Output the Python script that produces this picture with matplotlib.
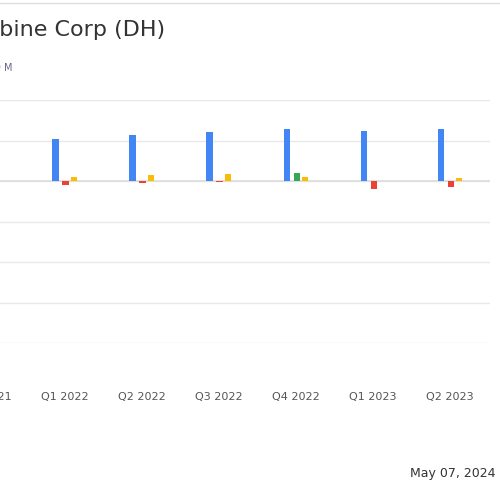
import numpy as np
import matplotlib
matplotlib.use('Agg')
import matplotlib.pyplot as plt
import matplotlib.transforms as mtransforms

quarters = ['Q4 2021', 'Q1 2022', 'Q2 2022', 'Q3 2022', 'Q4 2022', 'Q1 2023', 'Q2 2023']
revenue = [50, 52, 57, 60, 64, 62, 64]
net_income = [-4, -5, -3, -1, 10, -10, -7]
other = [4, 5, 7, 9, 5, 0, 3.5]

fig = plt.figure(figsize=(5, 5), dpi=100)
ax = fig.add_axes([0, 1 - 343 / 500, 490 / 500, 243 / 500])

x = np.arange(len(quarters))
ax.bar(x - 0.12, revenue, 0.08, color='#4285f4', zorder=3)
ni_col = ['#34a853' if v > 0 else '#ea4335' for v in net_income]
ax.bar(x + 0.01, net_income, 0.08, color=ni_col, zorder=3)
ax.bar(x + 0.12, other, 0.07, color='#fbbc04', zorder=3)

ax.set_xticks(x)
ax.set_xticklabels(quarters, fontsize=8, color='#555555')
ax.set_xlim(0.16, 6.52)
ax.set_ylim(-200, 100)
ax.set_yticks(np.arange(-200, 101, 50))
ax.yaxis.grid(True, color='#e8e8e8', lw=1, zorder=0)
ax.axhline(0, color='#dddddd', lw=1.2, zorder=2)
ax.set_yticklabels([])
ax.tick_params(length=0)
ax.tick_params(axis='x', pad=35)
for s in ax.spines.values():
    s.set_visible(False)

# first quarter's tick sits just outside the visible range
trans = mtransforms.blended_transform_factory(ax.transData, fig.transFigure)
ax.text(x[0], 1 - 397 / 500, quarters[0], transform=trans, ha='center', va='center',
        fontsize=8, color='#555555', clip_on=False)

fig.text(165 / 500, 1 - 30 / 500, 'Digital Turbine Corp (DH)', ha='right', va='center',
         fontsize=16, color='#333333')
fig.text(12 / 500, 1 - 68 / 500, 'USD M', ha='right', va='center', fontsize=7, color='#666688')
fig.text(410 / 500, 1 - 473 / 500, 'May 07, 2024', ha='left', va='center', fontsize=9, color='#333333')
fig.add_artist(plt.Line2D([0, 1], [1 - 3 / 500] * 2, color='#dddddd', lw=1))

fig.savefig('out.png', dpi=100)
